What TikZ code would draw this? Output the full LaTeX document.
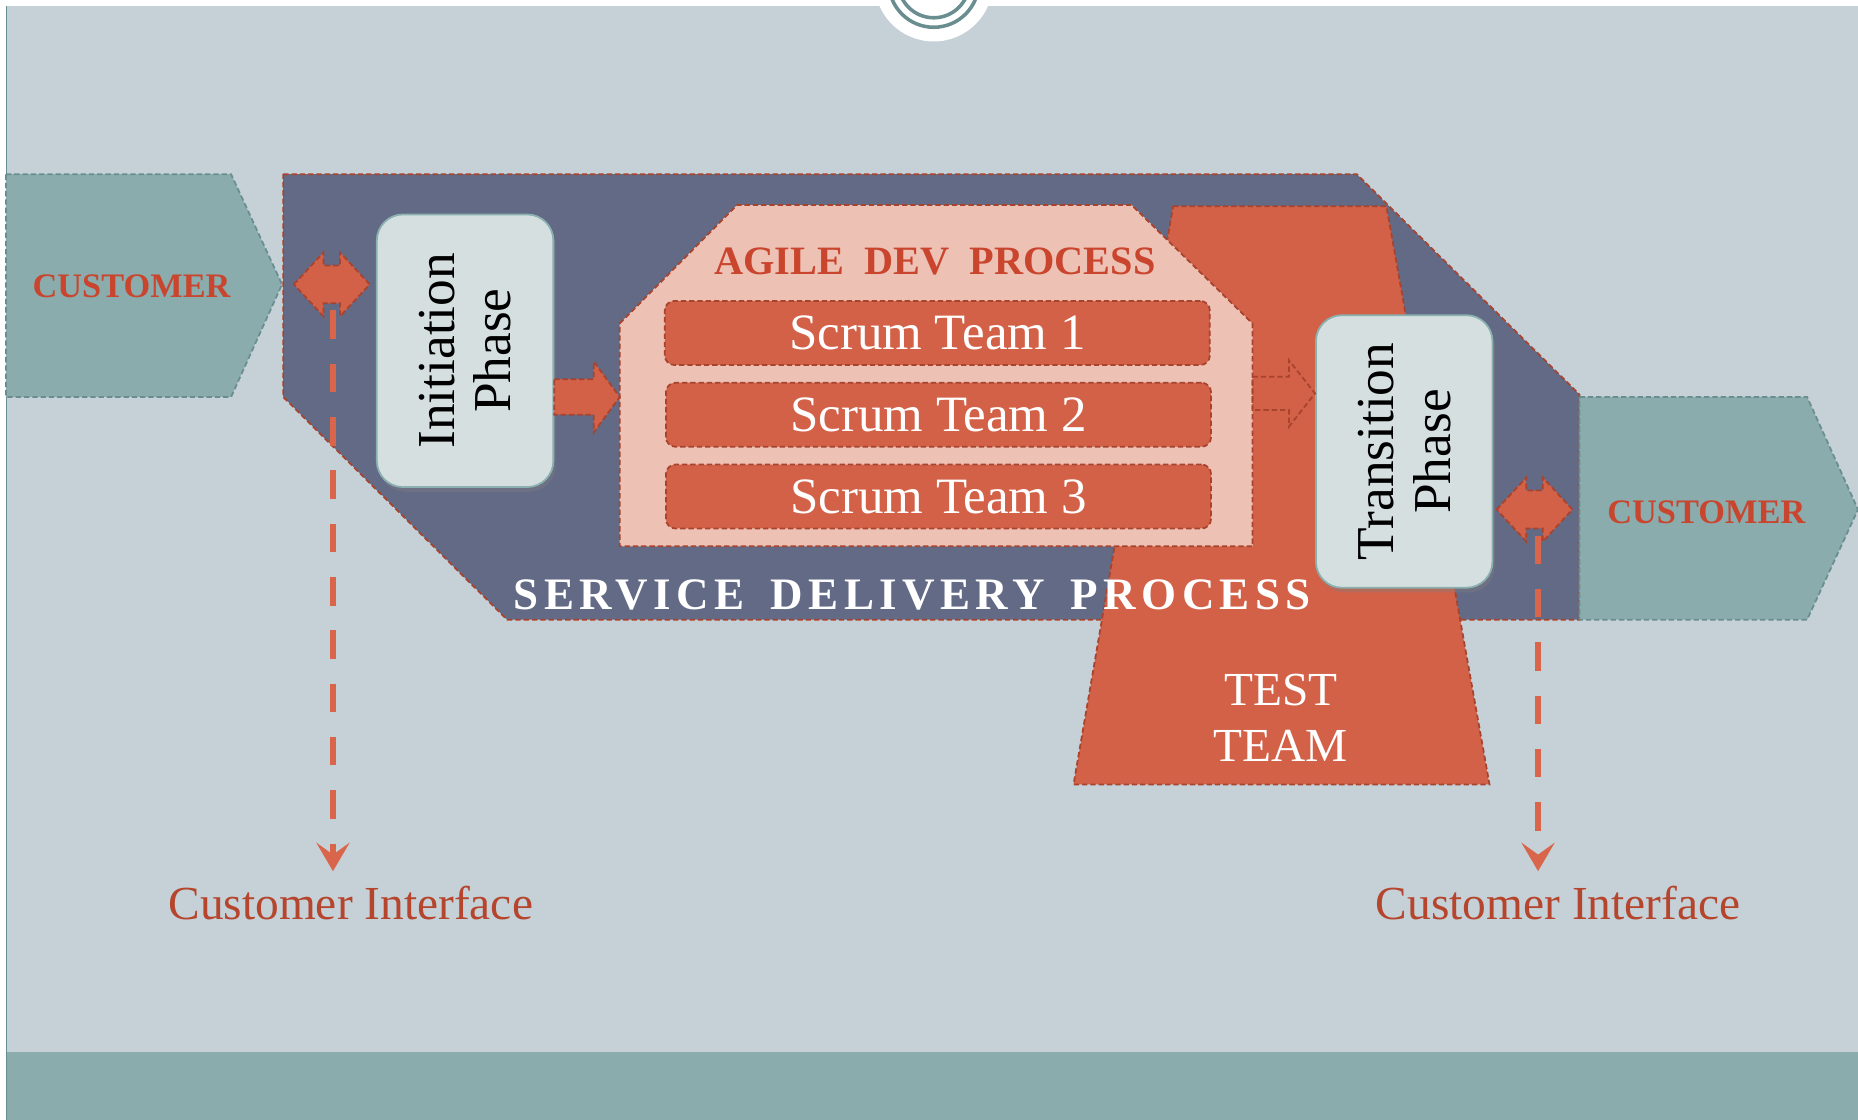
\documentclass[tikz,border=0pt]{standalone}
\usepackage{fontspec}
\setmainfont{Liberation Serif}
\newfontfamily\spacedserif[LetterSpace=12]{Liberation Serif}
\usetikzlibrary{shadows,arrows.meta,calc}
\definecolor{bgc}{HTML}{C5D1D7}
\definecolor{tealc}{HTML}{8AACAD}
\definecolor{tealdark}{HTML}{6A8E90}
\definecolor{slatec}{HTML}{636A86}
\definecolor{orangec}{HTML}{D26148}
\definecolor{pinkc}{HTML}{EEC1B5}
\definecolor{boxc}{HTML}{D5DFE0}
\definecolor{boxedge}{HTML}{8BB0B0}
\definecolor{redline}{HTML}{A8432E}
\definecolor{dashc}{HTML}{D9664A}
\definecolor{labelc}{HTML}{B5452D}
\definecolor{custred}{HTML}{C9452E}
\newcommand\blockarr[5]{% #1 style, #2 start, #3 end, #4 shaft half, #5 head half; head length 22
  \path[#1] ($(#2)+(0,-#4)$) -- ($(#3)+(-22,-#4)$) -- ($(#3)+(-22,-#5)$) -- (#3)
    -- ($(#3)+(-22,#5)$) -- ($(#3)+(-22,#4)$) -- ($(#2)+(0,#4)$) -- cycle;}
\newcommand\dblarr[1]{% #1 centre coordinate name
  \path[fill=orangec, redborder] ($(#1)+(-32,0)$) -- ($(#1)+(-7,-27)$) -- ($(#1)+(-7,-16)$)
    -- ($(#1)+(7,-16)$) -- ($(#1)+(7,-27)$) -- ($(#1)+(32,0)$) -- ($(#1)+(7,27)$)
    -- ($(#1)+(7,16)$) -- ($(#1)+(-7,16)$) -- ($(#1)+(-7,27)$) -- cycle;}
\begin{document}
\begin{tikzpicture}[x=1pt,y=-1pt,
  thindash/.style={dash pattern=on 4.5pt off 2.5pt, line width=1.5pt},
  redborder/.style={draw=redline, thindash},
  tealborder/.style={draw=tealdark, thindash},
  custtxt/.style={text=custred, font=\fontsize{29}{30}\selectfont\bfseries},
  scrumbox/.style={draw=redline, thindash, fill=orangec, rounded corners=8,
    minimum width=460, minimum height=54, text=white, font=\fontsize{43}{45}\selectfont},
  phasebox/.style={draw=boxedge, line width=1.5pt, fill=boxc, rounded corners=22,
    minimum width=149, minimum height=230,
    drop shadow={opacity=0.35, shadow xshift=2pt, shadow yshift=-4pt}},
  phasetxt/.style={rotate=90, align=center, text=black, font=\fontsize{45}{48}\selectfont},
  dashedconn/.style={draw=dashc, line width=5.5pt, dash pattern=on 24pt off 21pt,
    -{Stealth[length=24pt,width=28pt,inset=10pt]}},
  cilabel/.style={text=labelc, font=\fontsize{40}{42}\selectfont}]
\useasboundingbox (0,0) rectangle (1568,945);
% background
\fill[bgc] (0,0) rectangle (1568,945);
\fill[white] (0,0) rectangle (1568,5);
\fill[white] (0,0) rectangle (5,945);
\draw[tealdark, line width=1.2pt] (5.5,5) -- (5.5,945);
\fill[tealc] (5.5,888) rectangle (1568,945);
% top emblem
\fill[white] (788,-15) circle (50);
\draw[tealdark, line width=3pt] (788,-15) circle (38);
\draw[tealdark, line width=3pt] (788,-15) circle (30);
% customers
\draw[fill=tealc, tealborder] (5,147) -- (195,147) -- (238,240) -- (195,335) -- (5,335) -- cycle;
\node[custtxt] (custL) at (111,242) {CUSTOMER};
% service delivery process
\draw[fill=slatec, redborder] (239,147) -- (1145,147) -- (1333,333) -- (1333,523) -- (428,523) -- (239,335) -- cycle;
\draw[fill=tealc, tealborder] (1333,335) -- (1525,335) -- (1568,430) -- (1525,523) -- (1333,523) -- cycle;
\node[custtxt] (custR) at (1440,432) {CUSTOMER};
% test team
\draw[fill=orangec, redborder] (990,174) -- (1170,174) -- (1257,662) -- (906,662) -- cycle;
% agile dev process
\draw[fill=pinkc, redborder] (523,273) -- (622,173) -- (955,173) -- (1057,273) -- (1057,461) -- (523,461) -- cycle;
\node[text=custred, font=\fontsize{34}{36}\selectfont\bfseries] (agile) at (789,221) {AGILE\ \ DEV\ \ PROCESS};
\node[scrumbox] (s1) at (791,281) {Scrum Team 1};
\node[scrumbox] (s2) at (792,350) {Scrum Team 2};
\node[scrumbox] (s3) at (792,419) {Scrum Team 3};
% phases
\node[phasebox] (init) at (392.5,296) {};
\node[phasetxt] (inittxt) at (init.center) {Initiation\\Phase};
\node[phasebox] (trans) at (1185,381) {};
\node[phasetxt] (transtxt) at (trans.center) {Transition\\Phase};
% block arrows
\coordinate (a1s) at (init.east |- 0,335);
\coordinate (a1e) at (523,335);
\blockarr{fill=orangec, redborder}{a1s}{a1e}{15}{30}
\coordinate (a2s) at (1057,332);
\coordinate (a2e) at (trans.west |- 0,332);
\blockarr{redborder}{a2s}{a2e}{14}{28}
% double arrows
\coordinate (dblL) at (280,240);
\coordinate (dblR) at (1295,430);
\dblarr{dblL}
\dblarr{dblR}
% texts
\node[text=white, font=\spacedserif\fontsize{38}{40}\selectfont\bfseries] (sdp) at (770,502) {SERVICE\hspace{22pt}DELIVERY\hspace{22pt}PROCESS};
\node[align=center, text=white, font=\fontsize{40}{47}\selectfont] (tt) at (1081,606) {TEST\\TEAM};
% customer interface
\node[cilabel] (ciL) at (296,762) {Customer Interface};
\node[cilabel] (ciR) at (1315,762) {Customer Interface};
\coordinate (dL) at (281,262);
\coordinate (dR) at (1298,452);
\draw[dashedconn, shorten >=9pt] (dL) -- (dL |- ciL.north);
\draw[dashedconn, shorten >=9pt] (dR) -- (dR |- ciR.north);
\end{tikzpicture}
\end{document}
